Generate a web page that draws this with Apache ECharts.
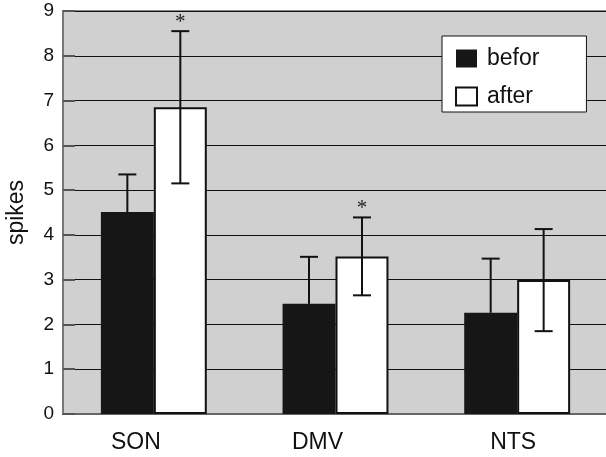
<!DOCTYPE html>
<html><head><meta charset="utf-8">
<script src="https://cdn.jsdelivr.net/npm/echarts@6/dist/echarts.min.js"></script>
<style>html,body{margin:0;padding:0;background:#fff}#c{width:606px;height:457px}</style>
</head><body><div id="c"></div>
<script>
var categories = ['SON', 'DMV', 'NTS'];
var beforValues = [4.51, 2.46, 2.26];
var beforErrors = [0.84, 1.05, 1.21];
var afterValues = [6.85, 3.52, 2.99];
var afterErrors = [1.70, 0.87, 1.14];
var afterSignificant = [true, true, false];
var yTicks = [0, 1, 2, 3, 4, 5, 6, 7, 8, 9];

var FONT = 'Liberation Sans, Arial, sans-serif';
var chart = echarts.init(document.getElementById('c'), null, {renderer: 'canvas'});

function errData(vals, errs, sig) {
  return vals.map(function (v, i) { return [i, v, errs[i], sig ? (sig[i] ? 1 : 0) : 0]; });
}
function makeErrRender(side, showLower) {
  return function (params, api) {
    var idx = api.value(0), v = api.value(1), e = api.value(2), s = api.value(3);
    var catW = api.size([1, 0])[0];
    var c = api.coord([idx, v]);
    var x = c[0] + side * catW * 0.1458;
    var yTop = api.coord([idx, v + e])[1];
    var yBot = showLower ? api.coord([idx, v - e])[1] : c[1];
    var cap = 9;
    var st = {stroke: '#111', lineWidth: 2};
    var children = [
      {type: 'line', shape: {x1: x, y1: yTop, x2: x, y2: yBot}, style: st},
      {type: 'line', shape: {x1: x - cap, y1: yTop, x2: x + cap, y2: yTop}, style: st}
    ];
    if (showLower) {
      children.push({type: 'line', shape: {x1: x - cap, y1: yBot, x2: x + cap, y2: yBot}, style: st});
    }
    if (s) {
      children.push({type: 'text', style: {text: '*', x: x, y: yTop - 9, align: 'center', verticalAlign: 'middle',
        font: '21px "Liberation Serif", serif', fill: '#222'}});
    }
    return {type: 'group', children: children};
  };
}

var labelRich = {
  l0: {fontFamily: FONT, fontSize: 23, color: '#111', padding: [0, 36, 0, 0]},
  l1: {fontFamily: FONT, fontSize: 23, color: '#111', padding: [0, 36, 0, 0]},
  l2: {fontFamily: FONT, fontSize: 23, color: '#111', padding: [0, 8, 0, 0]}
};

chart.setOption({
  animation: false,
  backgroundColor: '#fff',
  grid: {left: 63, right: -2, top: 11, bottom: 43, outerBoundsMode: 'none', containLabel: false,
    show: true, backgroundColor: '#d0d0d0', borderColor: '#8a8a8a', borderWidth: 2},
  legend: {
    data: ['befor', 'after'], orient: 'vertical', left: 442, top: 36,
    backgroundColor: '#fff', borderColor: '#111', borderWidth: 1,
    padding: [11, 47, 4, 13], itemGap: 15, itemWidth: 21, itemHeight: 18, icon: 'rect',
    textStyle: {fontFamily: FONT, fontSize: 23, color: '#111', padding: [0, 0, 0, 5]}
  },
  xAxis: {
    type: 'category', data: categories,
    axisLine: {lineStyle: {color: '#666', width: 2}},
    axisTick: {inside: true, length: 9, lineStyle: {color: '#666', width: 1}},
    axisLabel: {fontFamily: FONT, fontSize: 23, color: '#111', margin: 17, rich: labelRich,
      formatter: function (v, i) { return '{l' + i + '|' + v + '}'; }}
  },
  yAxis: {
    type: 'value', min: yTicks[0], max: yTicks[yTicks.length - 1], interval: 1,
    name: 'spikes', nameLocation: 'middle', nameGap: 35, nameRotate: 90,
    nameTextStyle: {fontFamily: FONT, fontSize: 23, color: '#111'},
    axisLine: {show: true, lineStyle: {color: '#777', width: 2}},
    axisTick: {show: true, inside: true, length: 12, lineStyle: {color: '#555', width: 2}},
    axisLabel: {fontFamily: FONT, fontSize: 19, color: '#111', margin: 9},
    splitLine: {show: true, lineStyle: {color: '#111', width: 1}}
  },
  series: [
    {name: 'befor', type: 'bar', data: beforValues, barGap: '0%', barCategoryGap: '41.7%',
      itemStyle: {color: '#161616', borderColor: '#161616', borderWidth: 0}},
    {name: 'after', type: 'bar', data: afterValues,
      itemStyle: {color: '#ffffff', borderColor: '#111', borderWidth: 2}},
    {type: 'custom', name: 'befor-err', data: errData(beforValues, beforErrors, null),
      renderItem: makeErrRender(-1, false), z: 5, encode: {x: 0, y: 1}},
    {type: 'custom', name: 'after-err', data: errData(afterValues, afterErrors, afterSignificant),
      renderItem: makeErrRender(1, true), z: 5, encode: {x: 0, y: 1}}
  ]
});
</script></body></html>
